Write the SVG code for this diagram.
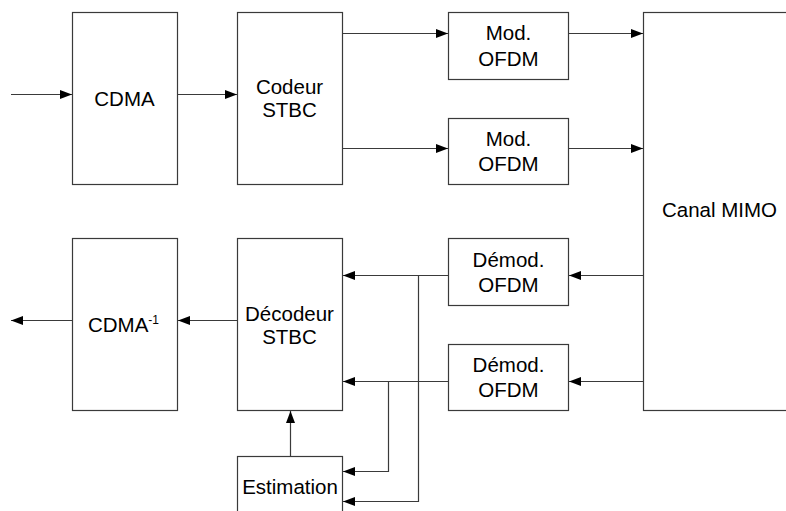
<svg xmlns="http://www.w3.org/2000/svg" width="786" height="511" viewBox="0 0 786 511">
<defs>
<marker id="arr" markerWidth="12" markerHeight="9" refX="12" refY="4.5" orient="auto" markerUnits="userSpaceOnUse">
<path d="M0,0 L12,4.5 L0,9 z" fill="#000"/>
</marker>
<style>
.box{fill:#fff;stroke:#3a3a3a;stroke-width:1.2}
.t{font-family:"Liberation Sans",Arial,sans-serif;font-size:20.5px;fill:#000;text-anchor:middle}
.c{fill:none;stroke:#3a3a3a;stroke-width:1.2;marker-end:url(#arr)}
.l{fill:none;stroke:#3a3a3a;stroke-width:1.2}
</style>
</defs>
<rect width="786" height="511" fill="#fff"/>
<g id="cdma"><rect class="box" x="72.5" y="12.5" width="105" height="172"/><text class="t" x="124.5" y="106">CDMA</text></g>
<g id="codeur"><rect class="box" x="237.5" y="12.5" width="105" height="172"/><text class="t" x="289.5" y="94">Codeur</text><text class="t" x="289.5" y="117">STBC</text></g>
<g id="mod1"><rect class="box" x="448.5" y="12.5" width="120" height="67"/><text class="t" x="508.5" y="40">Mod.</text><text class="t" x="508.5" y="66">OFDM</text></g>
<g id="mod2"><rect class="box" x="448.5" y="118.5" width="120" height="66"/><text class="t" x="508.5" y="146">Mod.</text><text class="t" x="508.5" y="171">OFDM</text></g>
<g id="canal"><rect class="box" x="643.5" y="12.5" width="160" height="398"/><text class="t" x="719.5" y="217">Canal MIMO</text></g>
<g id="demod1"><rect class="box" x="448.5" y="238.5" width="120" height="67"/><text class="t" x="508.5" y="267">Démod.</text><text class="t" x="508.5" y="292">OFDM</text></g>
<g id="demod2"><rect class="box" x="448.5" y="344.5" width="120" height="66"/><text class="t" x="508.5" y="372">Démod.</text><text class="t" x="508.5" y="397">OFDM</text></g>
<g id="decodeur"><rect class="box" x="237.5" y="238.5" width="105" height="172"/><text class="t" x="289.5" y="321">Décodeur</text><text class="t" x="289.5" y="343.5">STBC</text></g>
<g id="cdmainv"><rect class="box" x="72.5" y="238.5" width="105" height="172"/><text class="t" x="88" y="332" style="text-anchor:start">CDMA<tspan font-size="12" dy="-8">-1</tspan></text></g>
<g id="estimation"><rect class="box" x="237.5" y="456.5" width="105" height="70"/><text class="t" x="290" y="493.5">Estimation</text></g>
<g id="connectors">
<path class="c" d="M11,94.5 H72"/>
<path class="c" d="M177.5,94.5 H237"/>
<path class="c" d="M342.5,33.5 H448"/>
<path class="c" d="M342.5,148.5 H448"/>
<path class="c" d="M568.5,33.5 H643"/>
<path class="c" d="M568.5,148.5 H643"/>
<path class="c" d="M643.5,275.5 H569"/>
<path class="c" d="M643.5,381.5 H569"/>
<path class="c" d="M448.5,275.5 H343"/>
<path class="c" d="M448.5,381.5 H343"/>
<path class="c" d="M418.5,275.5 V501.5 H343"/>
<path class="c" d="M388.5,381.5 V471.5 H343"/>
<path class="c" d="M290.5,456.5 V411"/>
<path class="c" d="M237.5,320.5 H178"/>
<path class="c" d="M72.5,320.5 H11"/>
</g>
</svg>
